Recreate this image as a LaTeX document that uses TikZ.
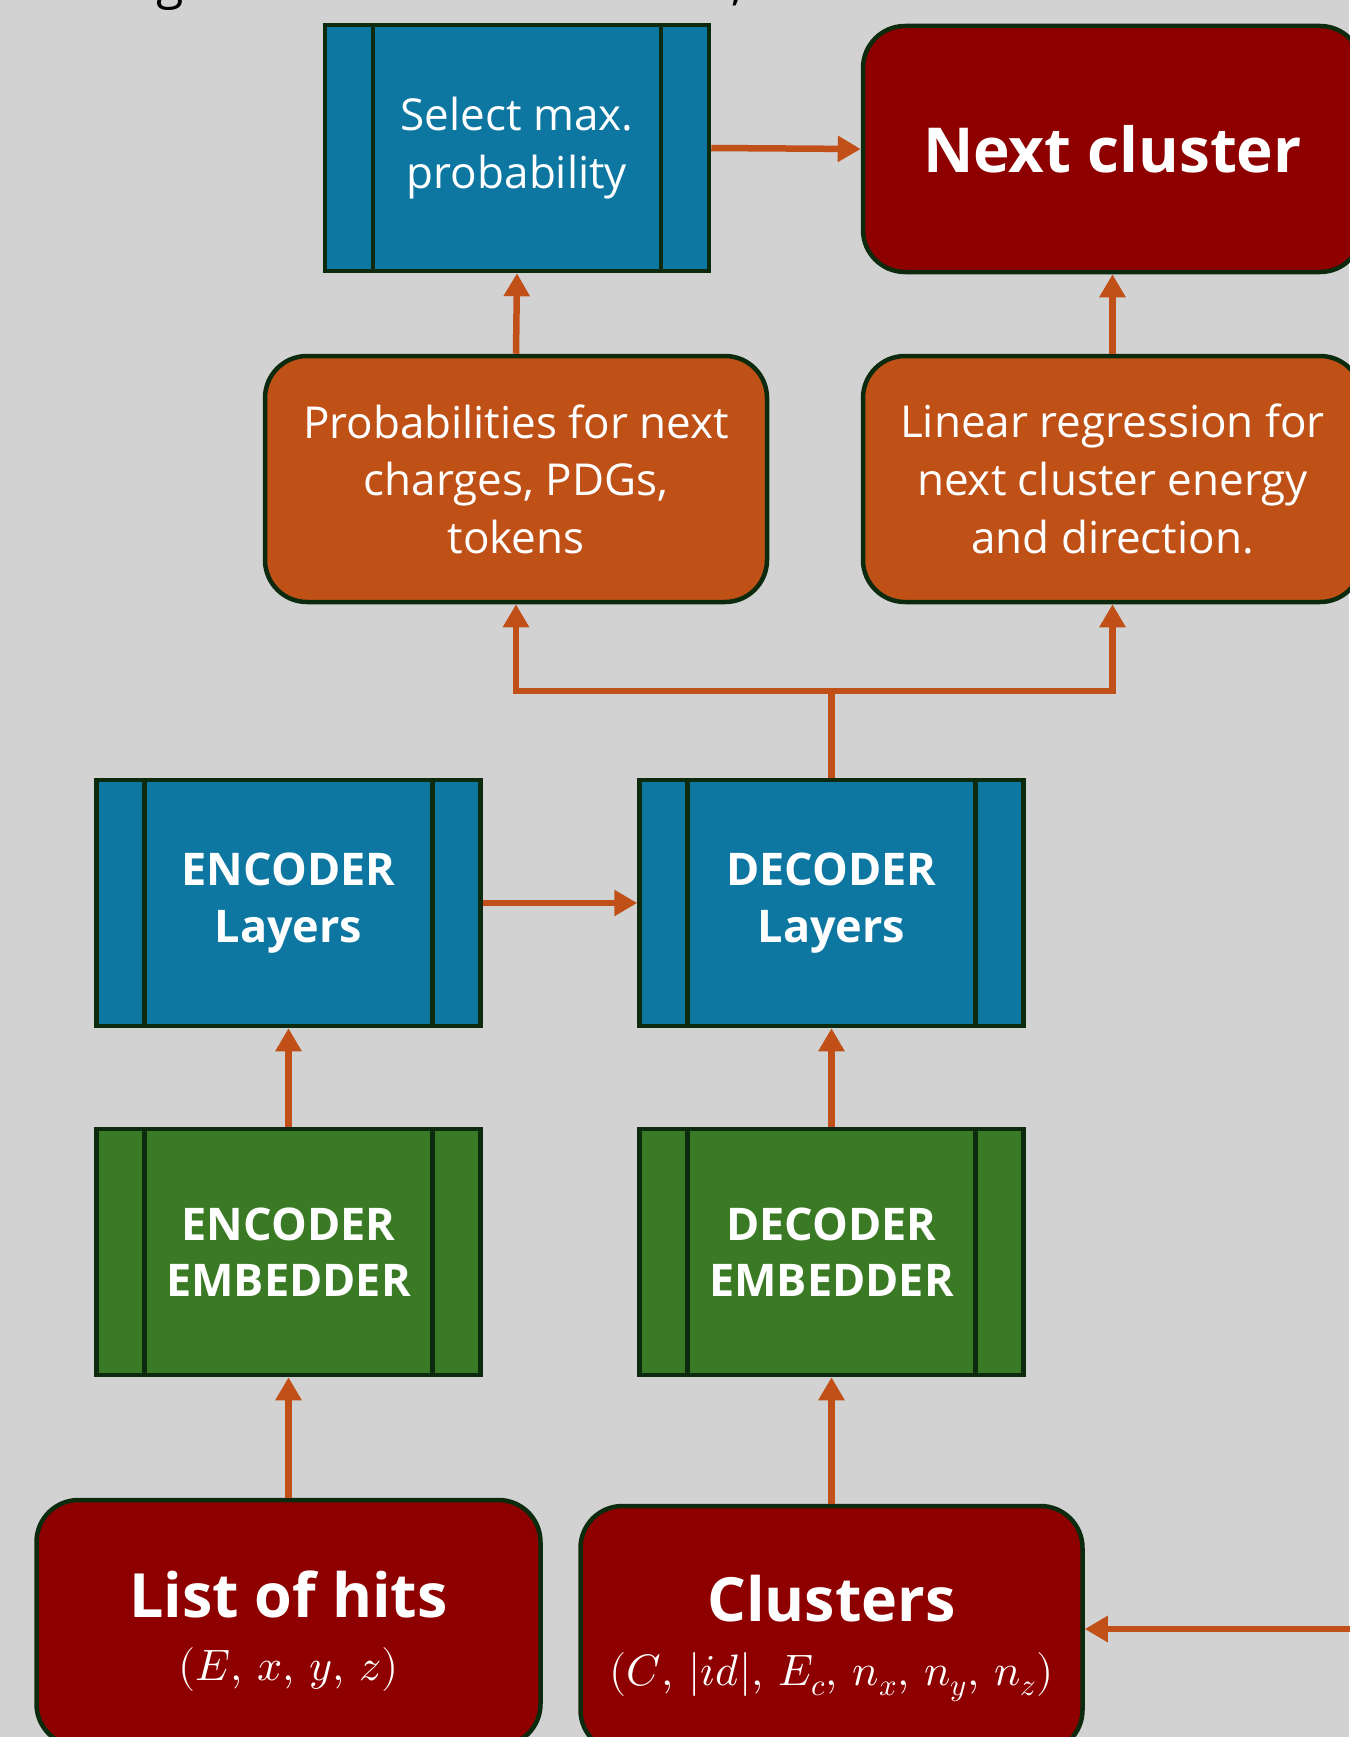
\documentclass[tikz,border=0pt]{standalone}
\usepackage{fontspec}
\usepackage{unicode-math}
\setmainfont{Open Sans}
\setmathfont{Latin Modern Math}
\usetikzlibrary{arrows.meta}
\definecolor{bgC}{HTML}{D2D2D2}
\definecolor{blueC}{HTML}{0D77A1}
\definecolor{greenC}{HTML}{3B7A24}
\definecolor{redC}{HTML}{8E0000}
\definecolor{orangeC}{HTML}{BF5016}
\definecolor{bordC}{HTML}{0C2A0E}
\definecolor{arrC}{HTML}{C05017}
\begin{document}
\begin{tikzpicture}[x=1pt,y=-1pt,
  bx/.style={draw=bordC,line width=4.5pt,text=white,align=center,inner sep=0pt,minimum height=246pt},
  barbox/.style={bx,rectangle,minimum width=384pt,path picture={
     \draw[bordC,line width=4.5pt]
       ([xshift=48pt]path picture bounding box.north west) -- ([xshift=48pt]path picture bounding box.south west)
       ([xshift=-48pt]path picture bounding box.north east) -- ([xshift=-48pt]path picture bounding box.south east);}},
  bluebox/.style={barbox,fill=blueC},
  greenbox/.style={barbox,fill=greenC},
  rbox/.style={bx,rounded corners=42pt},
  redbox/.style={rbox,fill=redC},
  orangebox/.style={rbox,fill=orangeC},
  arr/.style={draw=arrC,line width=6.5pt,-{Triangle[length=23pt,width=25pt]}},
  lbl/.style={font=\fontsize{44}{57.6}\selectfont},
  blbl/.style={font=\bfseries\fontsize{45}{56.5}\selectfont},
  ttl/.style={anchor=base,text=white,inner sep=0pt,font=\bfseries\fontsize{61}{70}\selectfont},
  mth/.style={anchor=base,text=white,inner sep=0pt,font=\fontsize{44}{50}\selectfont},
  frag/.style={anchor=base,text=black,inner sep=0pt,font=\fontsize{50}{60}\selectfont}
]
\useasboundingbox (0,0) rectangle (1349,1737);
\fill[bgC] (0,0) rectangle (1349,1737);

% cut-off title fragments
\node[frag] (tg) at (170,-1) {g};
\node[frag] (tc) at (738,0) {,};

\node[bluebox,lbl] (sel) at (517,148) {Select max.\\probability};
\node[redbox,minimum width=499pt,font=\bfseries\fontsize{62}{70}\selectfont] (next) at (1112.5,149) {Next cluster};
\node[orangebox,lbl,minimum width=502pt] (prob) at (516,479) {Probabilities for next\\charges, PDGs,\\tokens};
\node[orangebox,lbl,minimum width=499pt] (lin) at (1112.5,479) {Linear regression for\\next cluster energy\\and direction.};
\node[bluebox,blbl] (encl) at (288.5,903) {ENCODER\\Layers};
\node[bluebox,blbl] (decl) at (831.5,903) {DECODER\\Layers};
\node[greenbox,blbl] (ence) at (288.5,1252) {ENCODER\\EMBEDDER};
\node[greenbox,blbl] (dece) at (831.5,1252) {DECODER\\EMBEDDER};
\node[redbox,minimum width=504pt] (hits) at (288.5,1623) {};
\node[redbox,minimum width=502pt] (clus) at (831.5,1629) {};
\node[ttl] (hitsT) at (288.5,1617) {List of hits};
\node[mth] (hitsM) at (288.5,1680) {$(E,\,x,\,y,\,z)$};
\node[ttl] (clusT) at (831.5,1621) {Clusters};
\node[mth] (clusM) at (831.5,1685) {$(C,\,|id|,\,E_c,\,n_x,\,n_y,\,n_z)$};

\draw[arr] (hits.north) -- (ence.south);
\draw[arr] (clus.north) -- (dece.south);
\draw[arr] (ence.north) -- (encl.south);
\draw[arr] (dece.north) -- (decl.south);
\draw[arr] (encl.east) -- (decl.west);
\coordinate (j) at (831.5,691);
\draw[draw=arrC,line width=6.5pt] (decl.north) -- (j);
\draw[arr] (j) -| (prob.south);
\draw[arr] (j) -| (lin.south);
\draw[arr] (prob.north) -- (sel.south);
\draw[arr] (lin.north) -- (next.south);
\draw[arr] (sel.east) -- (next.west);
\coordinate (rin) at (1352,1629);
\draw[arr] (rin) -- (clus.east);
\end{tikzpicture}
\end{document}
